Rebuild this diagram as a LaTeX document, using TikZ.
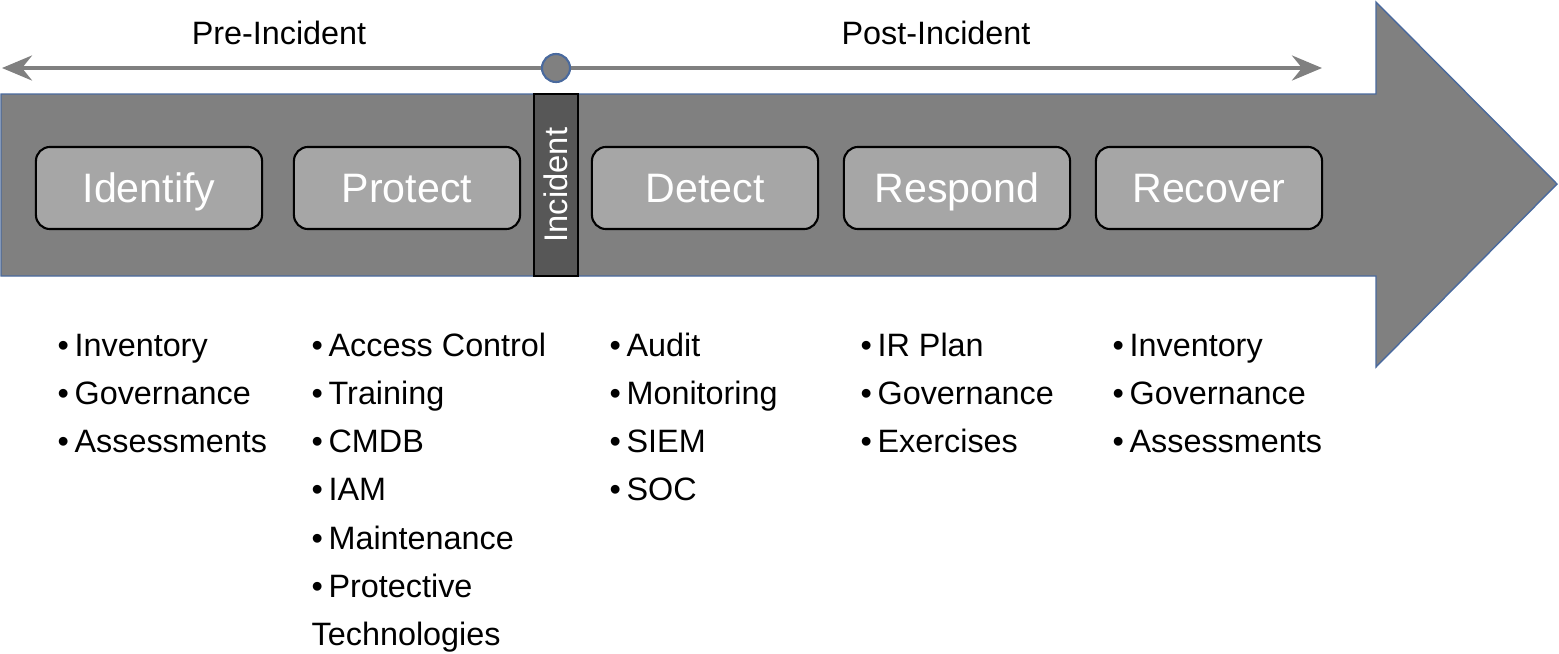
\documentclass[tikz,border=0pt]{standalone}
\usepackage{fontspec}
\setmainfont{Liberation Sans}
\usetikzlibrary{arrows.meta}
\definecolor{bodygray}{HTML}{808080}
\definecolor{boxgray}{HTML}{A6A6A6}
\definecolor{incgray}{HTML}{575757}
\definecolor{edgeblue}{HTML}{4A6A9E}
\newcommand\bul{•\hspace{1.6pt}}
\begin{document}
\begin{tikzpicture}[x=0.01cm, y=-0.01cm,
  phase/.style={draw=black, line width=0.6pt, fill=boxgray, rounded corners=4pt,
    minimum width=2.26cm, minimum height=0.82cm, inner sep=0pt,
    text height=0.82em, text depth=0pt,
    text=white, font=\fontsize{11.7}{14}\selectfont},
  item/.style={anchor=base west, inner sep=0pt, font=\fontsize{9.2}{10}\selectfont},
  era/.style={anchor=base, inner sep=0pt, font=\fontsize{9.2}{11}\selectfont},
  timeline/.style={bodygray, line width=1.1pt,
    {Stealth[length=3mm, width=2.5mm, inset=1mm]}-{Stealth[length=3mm, width=2.5mm, inset=1mm]}}]
  \useasboundingbox (0,0) rectangle (1559,654);
  % big arrow
  \draw [edgeblue, fill=bodygray, line width=0.4pt, line join=miter]
    (1,94) -- (1376,94) -- (1376,2) -- (1557,184) -- (1376,367) -- (1376,276) -- (1,276) -- cycle;
  % timeline
  \coordinate (pre) at (2,68);
  \coordinate (post) at (1322,68);
  \draw [timeline] (pre) -- (post);
  \node [circle, draw=edgeblue, fill=bodygray, line width=0.6pt, minimum size=0.28cm, inner sep=0pt] (t0) at (556,68) {};
  \node [era] (preinc) at (279,44) {Pre-Incident};
  \node [era] (postinc) at (936,44) {Post-Incident};
  % incident bar
  \node [draw=black, line width=0.6pt, fill=incgray, rotate=90, minimum width=1.82cm, minimum height=0.44cm,
    inner sep=0pt, text=white, font=\fontsize{9.3}{11}\selectfont] (incident) at (556,185) {Incident};
  % phases
  \node [phase] (identify) at (149,188) {Identify};
  \node [phase] (protect)  at (407,188) {Protect};
  \node [phase] (detect)   at (705,188) {Detect};
  \node [phase] (respond)  at (957,188) {Respond};
  \node [phase] (recover)  at (1209,188) {Recover};
  % lists
  \foreach \txt [count=\i] in {\bul Inventory, \bul Governance, \bul Assessments}
    \node [item] (idl-\i) at (57,{356+48.3*(\i-1)}) {\txt};
  \foreach \txt [count=\i] in {\bul Access Control, \bul Training, \bul CMDB, \bul IAM, \bul Maintenance, \bul Protective, Technologies}
    \node [item] (prl-\i) at (311,{356+48.3*(\i-1)}) {\txt};
  \foreach \txt [count=\i] in {\bul Audit, \bul Monitoring, \bul SIEM, \bul SOC}
    \node [item] (del-\i) at (609,{356+48.3*(\i-1)}) {\txt};
  \foreach \txt [count=\i] in {\bul IR Plan, \bul Governance, \bul Exercises}
    \node [item] (rsl-\i) at (860,{356+48.3*(\i-1)}) {\txt};
  \foreach \txt [count=\i] in {\bul Inventory, \bul Governance, \bul Assessments}
    \node [item] (rcl-\i) at (1112,{356+48.3*(\i-1)}) {\txt};
\end{tikzpicture}
\end{document}
